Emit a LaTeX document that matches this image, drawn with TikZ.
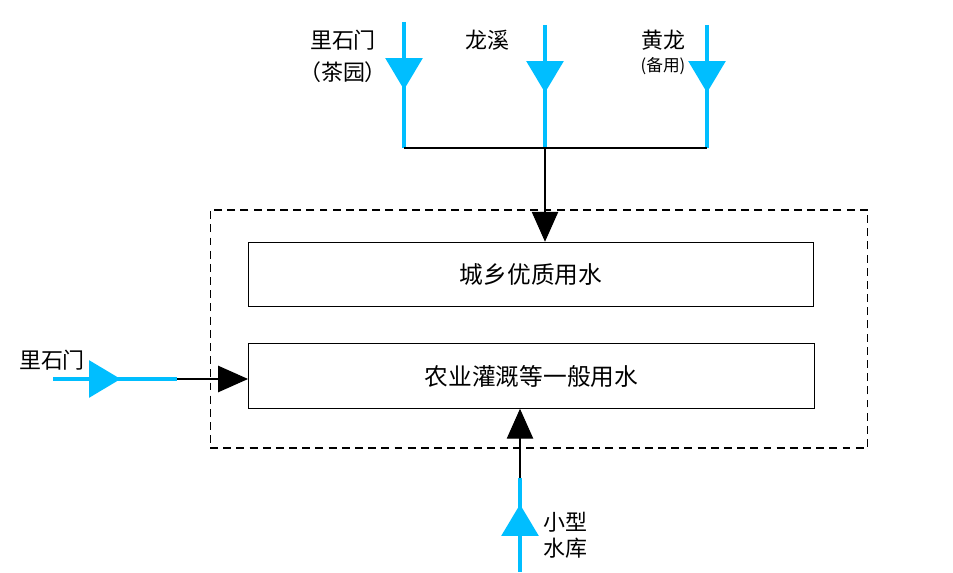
\documentclass[tikz,border=0pt]{standalone}
\usepackage{fontspec}
\setmainfont{Noto Sans CJK SC}
\usetikzlibrary{arrows.meta,decorations.markings}

\definecolor{srcblue}{RGB}{0,190,255}

\tikzset{
  waterbox/.style={draw, line width=0.6pt, minimum width=11.32cm, minimum height=1.29cm,
    font=\fontsize{13.5}{16}\selectfont},
  zonebox/.style={draw, dashed, dash pattern=on 4.5pt off 3pt, line width=0.6pt,
    minimum width=13.16cm, minimum height=4.76cm},
  srcline/.style={draw=srcblue, line width=1.8pt, postaction={decorate},
    decoration={markings, mark=at position 38.5pt with
      {\arrow[srcblue]{Triangle[length=18pt, width=21pt]}}}},
  feed/.style={line width=0.6pt, -{Triangle[length=17pt, width=15pt]}},
  lbl/.style={font=\fontsize{12.5}{15}\selectfont, inner sep=0pt}
}

\begin{document}
\begin{tikzpicture}[x=0.02cm, y=-0.02cm]
  \useasboundingbox (0,0) rectangle (953,573);

  % supply area and the two uses
  \node[zonebox] (zone) at (539,329) {};
  \node[waterbox] (good) at (531,274.5) {城乡优质用水};
  \node[waterbox] (farm) at (531.5,376) {农业灌溉等一般用水};

  % upper sources
  \coordinate (s1) at (404,22);
  \coordinate (s2) at (545,25);
  \coordinate (s3) at (707,25);
  \coordinate (j1) at (404,148);
  \coordinate (j2) at (545,148);
  \coordinate (j3) at (707,148);
  \draw[srcline] (s1) -- (j1);
  \draw[srcline] (s2) -- (j2);
  \draw[srcline] (s3) -- (j3);
  \draw[line width=0.6pt] (j1) -- (j3);
  \draw[feed] (j2) -- (j2 |- good.north);

  \node[lbl] (n1) at (343,40) {里石门};
  \node[lbl] (n1b) at (343,72) {（茶园）};
  \node[lbl] (n2) at (487,40) {龙溪};
  \node[lbl] (n3) at (663,40) {黄龙};
  \node[lbl, font=\fontsize{9.5}{11}\selectfont] (n3b) at (663,66) {(备用)};

  % left source
  \coordinate (w0) at (53,379);
  \coordinate (w1) at (177,379);
  \draw[srcline] (w0) -- (w1);
  \draw[feed] (w1) -- (w1 -| farm.west);
  \node[lbl] (n4) at (52,360) {里石门};

  % reservoir
  \coordinate (r0) at (520,572);
  \coordinate (r1) at (520,478);
  \draw[srcline] (r0) -- (r1);
  \draw[feed] (r1) -- (r1 |- farm.south);
  \node[lbl, align=left, anchor=west] (n5) at (543,535) {小型\\水库};
\end{tikzpicture}
\end{document}
